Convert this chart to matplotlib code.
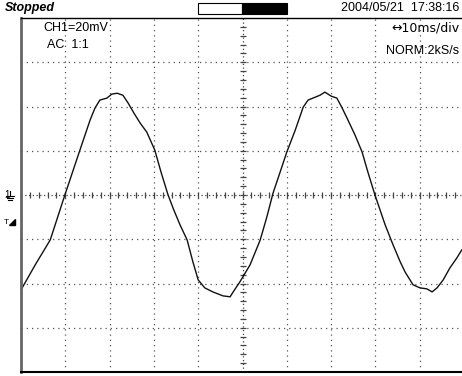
import numpy as np
import matplotlib.pyplot as plt
from matplotlib.patches import Rectangle

# scope capture, CH1 at 20 mV/div, 10 ms/div
time_ms = [0, 3.2, 6.6, 9.9, 13.3, 15.6, 16.7, 17.8, 19.4, 20.5, 21.7, 23.0,
           24.2, 25.5, 26.9, 28.4, 30.2, 31.6, 33.2, 34.5, 35.9, 37.5, 38.8,
           40.0, 41.5, 43.3, 45.6, 47.2, 47.9, 49.4, 51.7, 54.0, 55.5, 56.9,
           58.5, 60.0, 61.9, 63.7, 64.8, 65.9, 67.5, 68.6, 70.0, 71.3, 72.5,
           73.8, 75.4, 77.0, 78.3, 79.9, 82.2, 84.0, 85.6, 86.7, 88.5, 90.1,
           91.6, 92.8, 93.9, 95.3, 96.8, 98.4, 99.5]
volts_mv = [-42.9, -31.6, -20.3, 0, 20.3, 33.9, 39.3, 42.9, 43.8, 45.6, 46.0,
            45.1, 41.5, 37.0, 32.5, 28.4, 20.3, 10.4, 0, -6.8, -13.5, -20.3,
            -30.2, -38.4, -42.0, -43.8, -45.6, -46.0, -43.8, -39.3, -31.6,
            -20.3, -9.9, 0.9, 10.4, 19.4, 29.3, 39.7, 42.9, 43.8, 45.1, 46.5,
            44.7, 43.8, 39.3, 33.9, 27.1, 19.4, 10.4, 0, -13.5, -22.6, -30.2,
            -34.8, -40.6, -42.0, -42.4, -43.8, -42.0, -38.4, -33.0, -28.4, -24.8]

ms_per_div = 10
mv_per_div = 20

W, H = 462, 376
fig = plt.figure(figsize=(W / 100, H / 100), dpi=100)
fig.patch.set_facecolor('white')
plt.rcParams['font.family'] = ['Liberation Sans', 'DejaVu Sans']

left, right, top, bottom = 21, 464, 18, 372
ax = fig.add_axes([left / W, (H - bottom) / H, (right - left) / W, (bottom - top) / H])
ax.set_xlim(0, 10 * ms_per_div)
ax.set_ylim(-4 * mv_per_div, 4 * mv_per_div)
ax.set_xticks([])
ax.set_yticks([])
ax.spines['right'].set_visible(False)
ax.spines['left'].set_color('#666666')
ax.spines['left'].set_linewidth(2.0)
ax.spines['top'].set_linewidth(1.0)
ax.spines['bottom'].set_linewidth(1.5)

# dotted graticule
for i in range(1, 10):
    if i == 5:
        continue
    ax.axvline(i * ms_per_div, color='#555555', lw=0.9, ls=(0, (1, 3.2)))
for j in range(-3, 4):
    if j == 0:
        continue
    ax.axhline(j * mv_per_div, color='#555555', lw=0.9, ls=(0, (1, 3.2)))

# centre axes with minor ticks
ax.axvline(50, color='#444444', lw=0.9, ls=(0, (1, 2)))
ax.axhline(0, color='#444444', lw=0.9, ls=(0, (1, 2)))
minor_x = np.arange(0, 100.01, ms_per_div / 5)
minor_y = np.arange(-80, 80.01, mv_per_div / 5)
ax.plot(minor_x, np.zeros_like(minor_x), ls='none', marker='|', ms=4.5,
        mew=0.9, color='#444444')
ax.plot(np.full_like(minor_y, 50), minor_y, ls='none', marker='_', ms=4.5,
        mew=0.9, color='#444444')

ax.plot(time_ms, volts_mv, color='#111111', lw=1.0)

# status line
fig.text(5 / W, 1 - 8 / H, 'Stopped', fontsize=9, fontweight='bold',
         style='italic', va='center', ha='left')
fig.patches.append(Rectangle((198 / W, 1 - 14 / H), 44 / W, 11 / H,
                             transform=fig.transFigure, facecolor='white',
                             edgecolor='black', lw=0.8))
fig.patches.append(Rectangle((242 / W, 1 - 14 / H), 45 / W, 11 / H,
                             transform=fig.transFigure, facecolor='black',
                             edgecolor='black', lw=0.8))
fig.text(459 / W, 1 - 8 / H, '2004/05/21  17:38:16', fontsize=9,
         va='center', ha='right')

# channel and timebase readouts
fig.text(43 / W, 1 - 28 / H, 'CH1=20mV', fontsize=9, va='center', ha='left')
fig.text(47 / W, 1 - 45 / H, 'AC  1:1', fontsize=9, va='center', ha='left')
fig.text(459 / W, 1 - 28 / H, '\u219410ms/div', fontsize=9, va='center',
         ha='right', family=['DejaVu Sans'])
fig.text(459 / W, 1 - 51 / H, 'NORM:2kS/s', fontsize=9, va='center', ha='right')

# ground reference and trigger markers
fig.text(4 / W, 1 - 195 / H, '1', fontsize=7, va='center', ha='left')
gx = 10 / W
for k, half in enumerate([4, 3, 1.5]):
    y = 1 - (196 + 2 * k) / H
    fig.lines.append(plt.Line2D([gx - half / W, gx + half / W], [y, y],
                                transform=fig.transFigure, color='black', lw=0.8))
fig.lines.append(plt.Line2D([gx, gx], [1 - 191 / H, 1 - 196 / H],
                            transform=fig.transFigure, color='black', lw=0.8))
fig.text(4 / W, 1 - 222 / H, 'T', fontsize=6, va='center', ha='left')
fig.patches.append(plt.Polygon([(9 / W, 1 - 225 / H), (15 / W, 1 - 225 / H),
                                (15 / W, 1 - 219 / H)], closed=True,
                               transform=fig.transFigure, color='black'))

fig.savefig('out.png', dpi=100)
